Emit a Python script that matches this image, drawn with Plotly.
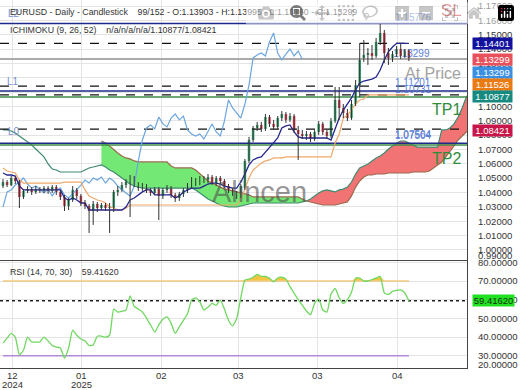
import numpy as np
import plotly.graph_objects as go

# ---------------- data ----------------
tick_pos = [2.4, 19.2, 38.6, 57.4, 76.8, 96.1]
tick_month = ["12", "01", "02", "03", "03", "04"]
tick_year = ["2024", "2025", "", "", "", ""]

price_ticks = [1.00, 1.01, 1.02, 1.03, 1.04, 1.05, 1.06, 1.07, 1.08, 1.09,
               1.10, 1.11, 1.12, 1.13, 1.14, 1.15, 1.16, 1.17]
rsi_ticks = [30, 40, 50, 60, 70, 80]

opens = [1.0445, 1.0473, 1.0452, 1.0501, 1.0480, 1.0369, 1.0411, 1.0424, 1.0404, 1.0424,
         1.0411, 1.0431, 1.0411, 1.0438, 1.0404, 1.0369, 1.0306, 1.0348, 1.0418, 1.0376,
         1.0327, 1.0306, 1.0271, 1.0320, 1.0292, 1.0313, 1.0292, 1.0292, 1.0404, 1.0418,
         1.0452, 1.0459, 1.0501, 1.0459, 1.0431, 1.0445, 1.0418, 1.0397, 1.0424, 1.0376,
         1.0418, 1.0431, 1.0383, 1.0362, 1.0390, 1.0418, 1.0452, 1.0487, 1.0466, 1.0501,
         1.0487, 1.0508, 1.0466, 1.0501, 1.0480, 1.0445, 1.0418, 1.0397, 1.0376, 1.0431,
         1.0620, 1.0766, 1.0850, 1.0871, 1.0843, 1.0926, 1.0878, 1.0857, 1.0919, 1.0947,
         1.0906, 1.0933, 1.0836, 1.0808, 1.0794, 1.0808, 1.0773, 1.0822, 1.0878, 1.0822,
         1.0794, 1.0898, 1.1045, 1.0989, 1.0954, 1.0919, 1.1017, 1.1149, 1.1338, 1.1359,
         1.1372, 1.1352, 1.1449, 1.1512, 1.1372, 1.1324, 1.1365, 1.1400, 1.1352, 1.13903]
highs = [1.0494, 1.0487, 1.0515, 1.0515, 1.0487, 1.0424, 1.0445, 1.0438, 1.0445, 1.0438,
         1.0445, 1.0445, 1.0452, 1.0452, 1.0418, 1.0383, 1.0362, 1.0445, 1.0431, 1.0390,
         1.0348, 1.0320, 1.0341, 1.0334, 1.0327, 1.0327, 1.0327, 1.0418, 1.0445, 1.0473,
         1.0494, 1.0522, 1.0515, 1.0473, 1.0466, 1.0459, 1.0431, 1.0438, 1.0438, 1.0431,
         1.0452, 1.0445, 1.0397, 1.0404, 1.0431, 1.0466, 1.0508, 1.0501, 1.0515, 1.0515,
         1.0529, 1.0522, 1.0515, 1.0515, 1.0494, 1.0459, 1.0431, 1.0411, 1.0459, 1.0634,
         1.0787, 1.0864, 1.0892, 1.0892, 1.0947, 1.0940, 1.0906, 1.0933, 1.0968, 1.0961,
         1.0954, 1.0947, 1.0864, 1.0836, 1.0829, 1.0822, 1.0836, 1.0898, 1.0892, 1.0836,
         1.0919, 1.1136, 1.1136, 1.1017, 1.0982, 1.1045, 1.1184, 1.1442, 1.1463, 1.1407,
         1.1428, 1.1477, 1.15776, 1.1533, 1.1407, 1.1386, 1.1421, 1.1435, 1.1400, 1.13995]
lows = [1.0431, 1.0438, 1.0445, 1.0459, 1.0292, 1.0355, 1.0397, 1.0383, 1.0390, 1.0397,
        1.0397, 1.0390, 1.0397, 1.0383, 1.0348, 1.0271, 1.0278, 1.0334, 1.0355, 1.0306,
        1.0285, 1.0118, 1.0174, 1.0264, 1.0278, 1.0271, 1.0118, 1.0264, 1.0376, 1.0404,
        1.0431, 1.0229, 1.0438, 1.0411, 1.0411, 1.0397, 1.0376, 1.0383, 1.0208, 1.0355,
        1.0397, 1.0362, 1.0334, 1.0341, 1.0369, 1.0397, 1.0431, 1.0445, 1.0452, 1.0466,
        1.0466, 1.0452, 1.0445, 1.0459, 1.0431, 1.0397, 1.0376, 1.0355, 1.0362, 1.0418,
        1.0606, 1.0752, 1.0829, 1.0822, 1.0829, 1.0857, 1.0836, 1.0843, 1.0898, 1.0885,
        1.0892, 1.0815, 1.0627, 1.0773, 1.0766, 1.0752, 1.0759, 1.0801, 1.0801, 1.0773,
        1.0780, 1.0885, 1.0906, 1.0919, 1.0898, 1.0906, 1.1003, 1.1066, 1.1310, 1.1289,
        1.1324, 1.1338, 1.1428, 1.1303, 1.1289, 1.1310, 1.1345, 1.1331, 1.1338, 1.13160]
closes = [1.0473, 1.0452, 1.0501, 1.0480, 1.0369, 1.0411, 1.0424, 1.0404, 1.0424, 1.0411,
          1.0431, 1.0411, 1.0438, 1.0404, 1.0369, 1.0306, 1.0348, 1.0418, 1.0376, 1.0327,
          1.0306, 1.0271, 1.0320, 1.0292, 1.0313, 1.0292, 1.0299, 1.0404, 1.0418, 1.0452,
          1.0473, 1.0501, 1.0459, 1.0431, 1.0445, 1.0418, 1.0397, 1.0424, 1.0376, 1.0418,
          1.0431, 1.0383, 1.0362, 1.0390, 1.0418, 1.0452, 1.0487, 1.0466, 1.0501, 1.0487,
          1.0508, 1.0466, 1.0501, 1.0480, 1.0445, 1.0418, 1.0397, 1.0376, 1.0445, 1.0620,
          1.0766, 1.0850, 1.0871, 1.0843, 1.0926, 1.0878, 1.0857, 1.0919, 1.0947, 1.0906,
          1.0933, 1.0836, 1.0808, 1.0794, 1.0808, 1.0773, 1.0822, 1.0878, 1.0822, 1.0794,
          1.0898, 1.1045, 1.0989, 1.0954, 1.0919, 1.1017, 1.1149, 1.1338, 1.1359, 1.1372,
          1.1352, 1.1449, 1.1512, 1.1372, 1.1324, 1.1365, 1.1400, 1.1352, 1.1386, 1.13299]

tenkan = [1.0536, 1.0522, 1.0522, 1.0515, 1.0445, 1.0418, 1.0418, 1.0418, 1.0418, 1.0418,
          1.0418, 1.0418, 1.0418, 1.0418, 1.0418, 1.0362, 1.0348, 1.0362, 1.0348, 1.0327,
          1.0327, 1.0278, 1.0278, 1.0278, 1.0278, 1.0278, 1.0278, 1.0278, 1.0278, 1.0278,
          1.0299, 1.0348, 1.0362, 1.0383, 1.0404, 1.0418, 1.0418, 1.0383, 1.0383, 1.0383,
          1.0383, 1.0383, 1.0362, 1.0376, 1.0404, 1.0418, 1.0431, 1.0431, 1.0431, 1.0445,
          1.0459, 1.0466, 1.0466, 1.0459, 1.0445, 1.0438, 1.0431, 1.0431, 1.0473, 1.0529,
          1.0592, 1.0627, 1.0641, 1.0648, 1.0683, 1.0710, 1.0745, 1.0780, 1.0850, 1.0864,
          1.0871, 1.0822, 1.0787, 1.0780, 1.0780, 1.0780, 1.0780, 1.0780, 1.0780, 1.0780,
          1.0766, 1.0850, 1.0919, 1.0975, 1.1017, 1.1059, 1.1115, 1.1163, 1.1177, 1.1184,
          1.1191, 1.1205, 1.1254, 1.1324, 1.1380, 1.1414, 1.1440, 1.1440, 1.1440, 1.14401]
kijun = [1.0571, 1.0550, 1.0543, 1.0536, 1.0487, 1.0466, 1.0466, 1.0466, 1.0466, 1.0466,
         1.0466, 1.0466, 1.0466, 1.0466, 1.0466, 1.0473, 1.0473, 1.0473, 1.0473, 1.0473,
         1.0418, 1.0376, 1.0362, 1.0348, 1.0341, 1.0327, 1.0299, 1.0292, 1.0278, 1.0278,
         1.0292, 1.0313, 1.0313, 1.0313, 1.0313, 1.0313, 1.0313, 1.0313, 1.0313, 1.0313,
         1.0313, 1.0313, 1.0313, 1.0313, 1.0313, 1.0313, 1.0313, 1.0313, 1.0313, 1.0313,
         1.0313, 1.0313, 1.0313, 1.0313, 1.0313, 1.0313, 1.0313, 1.0313, 1.0348, 1.0418,
         1.0501, 1.0557, 1.0585, 1.0606, 1.0620, 1.0627, 1.0641, 1.0641, 1.0641, 1.0648,
         1.0648, 1.0648, 1.0648, 1.0648, 1.0648, 1.0648, 1.0648, 1.0648, 1.0648, 1.0648,
         1.0648, 1.0745, 1.0808, 1.0919, 1.0940, 1.0975, 1.1017, 1.1045, 1.1052, 1.1080,
         1.1080, 1.1080, 1.1080, 1.1080, 1.1080, 1.1080, 1.1080, 1.1080, 1.1080, 1.1080]
senkou_a = [None] * 24 + [
    1.0759, 1.0745, 1.0724, 1.0696, 1.0675, 1.0655,
    1.0641, 1.0634, 1.0620, 1.0613, 1.0613, 1.0613, 1.0613, 1.0613, 1.0613, 1.0613,
    1.0613, 1.0585, 1.0571, 1.0571, 1.0571, 1.0571, 1.0571, 1.0557, 1.0529, 1.0501,
    1.0480, 1.0466, 1.0452, 1.0438, 1.0424, 1.0418, 1.0411, 1.0404, 1.0397, 1.0390,
    1.0383, 1.0369, 1.0369, 1.0369, 1.0369, 1.0369, 1.0369, 1.0369, 1.0369, 1.0369,
    1.0369, 1.0369, 1.0369, 1.0355, 1.0341, 1.0334, 1.0327, 1.0320, 1.0313, 1.0313,
    1.0313, 1.0313, 1.0320, 1.0327, 1.0334, 1.0376, 1.0438, 1.0480, 1.0508, 1.0522,
    1.0522, 1.0529, 1.0529, 1.0529, 1.0536, 1.0536, 1.0536, 1.0536, 1.0536, 1.0536,
    1.0543, 1.0543, 1.0543, 1.0543, 1.0550, 1.0571, 1.0592, 1.0613, 1.0648, 1.0683,
    1.0724, 1.0766, 1.0794, 1.0822, 1.0836]
senkou_b = [1.0836, 1.0836, 1.0829, 1.0815, 1.0794, 1.0773, 1.0752, 1.0731, 1.0703, 1.0675,
            1.0648, 1.0599, 1.0564, 1.0557, 1.0543, 1.0543, 1.0543, 1.0543, 1.0543, 1.0543,
            1.0557, 1.0571, 1.0578, 1.0585, 1.0592, 1.0578, 1.0557, 1.0543, 1.0522, 1.0501,
            1.0480, 1.0459, 1.0445, 1.0438, 1.0431, 1.0431, 1.0431, 1.0431, 1.0431, 1.0431,
            1.0431, 1.0431, 1.0431, 1.0431, 1.0431, 1.0431, 1.0431, 1.0418, 1.0397, 1.0376,
            1.0355, 1.0341, 1.0327, 1.0313, 1.0306, 1.0299, 1.0299, 1.0299, 1.0306, 1.0313,
            1.0320, 1.0327, 1.0327, 1.0327, 1.0327, 1.0327, 1.0327, 1.0327, 1.0327, 1.0327,
            1.0327, 1.0327, 1.0327, 1.0334, 1.0341, 1.0355, 1.0376, 1.0397, 1.0411, 1.0418,
            1.0411, 1.0404, 1.0418, 1.0424, 1.0438, 1.0473, 1.0529, 1.0571, 1.0585, 1.0599,
            1.0620, 1.0641, 1.0655, 1.0675, 1.0703, 1.0724, 1.0745, 1.0759, 1.0759, 1.0745,
            1.0731, 1.0717, 1.0717, 1.0717, 1.0717, 1.0717, 1.0717, 1.0836, 1.0836, 1.0850,
            1.0878, 1.0926, 1.0989, 1.1066, 1.1101]
chikou_shift = 26

rsi = [36.8, 39.5, 42.0, 40.0, 30.5, 33.0, 40.0, 37.4, 37.4, 37.4,
       40.0, 38.0, 35.5, 34.7, 34.2, 28.8, 34.2, 43.8, 41.0, 39.0,
       38.0, 35.5, 35.8, 40.5, 40.5, 40.0, 41.0, 55.0, 53.4, 53.8,
       54.5, 62.0, 56.5, 55.0, 53.4, 50.2, 46.5, 42.7, 46.5, 49.5,
       50.8, 47.5, 42.0, 45.5, 49.0, 52.5, 59.8, 61.0, 58.8, 54.5,
       56.0, 58.0, 57.0, 59.8, 55.0, 49.0, 46.0, 50.0, 61.0, 70.5,
       71.0, 72.0, 73.5, 72.5, 72.5, 71.5, 69.5, 71.6, 72.0, 71.0,
       67.0, 63.5, 60.0, 57.0, 54.0, 52.0, 58.0, 60.5, 54.5, 53.4,
       63.0, 66.0, 61.0, 58.0, 60.0, 64.0, 71.5, 71.5, 70.0, 70.0,
       70.8, 71.5, 72.5, 63.6, 62.8, 64.5, 65.0, 65.2, 63.6, 59.4162]
rsi_upper, rsi_lower = 70, 30

lvl_navy = [1.15776, 1.1108, 1.0743]
lvl_dashed = [1.14401, 1.1142, 1.1080, 1.08421]
lvl_green = [1.1066, 1.0731]
lvl_grey = [1.13299]
lvl_text_vals = [1.15776, 1.11201, 1.10731, 1.07564, 1.07504]
close_text_val = 1.13299

box_vals = [1.14401, 1.13299, 1.13299, 1.11526, 1.10877, 1.08421]
box_colors = ["#12129e", "#e8505c", "#3b8fe2", "#ea7a12", "#178a80", "#c8164a"]
box_shift = [0, 0, -13, 0, -3, -1]

# ---------------- figure ----------------
FONT = "Liberation Sans, Arial, sans-serif"
XR = [-0.73, 113.17]
n = len(closes)
idx = list(range(n))
cidx = list(range(len(senkou_b)))

fig = go.Figure()

# cloud fills
valid = [i for i in cidx if senkou_a[i] is not None]
runs = []
cur = [valid[0]]
sgn = senkou_a[valid[0]] >= senkou_b[valid[0]]
for i in valid[1:]:
    s = senkou_a[i] >= senkou_b[i]
    if s != sgn:
        runs.append((sgn, cur + [i]))
        cur = [i - 1, i]
        sgn = s
    else:
        cur.append(i)
runs.append((sgn, cur))
for up, r in runs:
    xs = r + r[::-1]
    ys = [senkou_a[j] for j in r] + [senkou_b[j] for j in r[::-1]]
    fig.add_trace(go.Scatter(x=xs, y=ys, fill="toself", mode="lines", line=dict(width=0),
                             fillcolor="#74e874" if up else "#f27373", hoverinfo="skip",
                             xaxis="x", yaxis="y"))

fig.add_trace(go.Scatter(x=cidx, y=senkou_b, mode="lines", line=dict(color="#3f8a72", width=1.2),
                         xaxis="x", yaxis="y"))
fig.add_trace(go.Scatter(x=cidx, y=senkou_a, mode="lines", line=dict(color="#9a6a4c", width=1.2),
                         xaxis="x", yaxis="y"))

# level lines
for v in lvl_grey:
    fig.add_trace(go.Scatter(x=XR, y=[v, v], mode="lines", line=dict(color="#aaaaaa", width=2)))
for v in lvl_green:
    fig.add_trace(go.Scatter(x=XR, y=[v, v], mode="lines", line=dict(color="#3c8c46", width=1.5)))
for v in lvl_navy:
    fig.add_trace(go.Scatter(x=XR, y=[v, v], mode="lines", line=dict(color="#1e2a8a", width=1.5)))
for v in lvl_dashed:
    fig.add_trace(go.Scatter(x=XR, y=[v, v], mode="lines", line=dict(color="#111111", width=1.2, dash="dash")))

# close value text (sits beneath the candles)
fig.add_trace(go.Scatter(x=[95.2], y=[close_text_val], mode="text",
                         text=[f"{close_text_val:.5f}"], textposition="top right",
                         textfont=dict(color="#5c7fd8", size=10, family=FONT)))

# chikou, kijun, tenkan
fig.add_trace(go.Scatter(x=idx[:n - chikou_shift], y=closes[chikou_shift:], mode="lines",
                         line=dict(color="#6ba6de", width=1.2)))
fig.add_trace(go.Scatter(x=idx, y=kijun, mode="lines", line=dict(color="#f0a86a", width=1.2)))
fig.add_trace(go.Scatter(x=idx, y=tenkan, mode="lines", line=dict(color="#26268f", width=1.3)))

# candles: wicks then bodies
wx, wy = [], []
for i in idx:
    wx += [i, i, None]
    wy += [lows[i], highs[i], None]
fig.add_trace(go.Scatter(x=wx, y=wy, mode="lines", line=dict(color="#333333", width=1)))
for up, col in ((True, "#35a66f"), (False, "#dd4455")):
    sel = [i for i in idx if (closes[i] >= opens[i]) == up]
    base = [min(opens[i], closes[i]) for i in sel]
    hgt = [max(abs(closes[i] - opens[i]), 0.0003) for i in sel]
    fig.add_trace(go.Bar(x=sel, y=hgt, base=base, width=0.62, marker=dict(color=col, line=dict(width=0)),
                         xaxis="x", yaxis="y"))

# RSI panel
fig.add_trace(go.Scatter(x=idx, y=[rsi_upper] * n, mode="lines", line=dict(width=0),
                         xaxis="x2", yaxis="y2"))
fig.add_trace(go.Scatter(x=idx, y=list(np.maximum(np.array(rsi), rsi_upper)), mode="lines",
                         fill="tonexty", fillcolor="#f5c542", line=dict(width=0),
                         xaxis="x2", yaxis="y2"))
fig.add_trace(go.Scatter(x=idx, y=[rsi_upper] * n, mode="lines", line=dict(color="#f2c97e", width=1.5),
                         xaxis="x2", yaxis="y2"))
fig.add_trace(go.Scatter(x=idx, y=[rsi_lower] * n, mode="lines", line=dict(color="#b48ad8", width=1.5),
                         xaxis="x2", yaxis="y2"))
fig.add_trace(go.Scatter(x=XR, y=[rsi[-1], rsi[-1]], mode="lines",
                         line=dict(color="#222222", width=1.5, dash="dot"), xaxis="x2", yaxis="y2"))
fig.add_trace(go.Scatter(x=idx, y=rsi, mode="lines", line=dict(color="#70d860", width=1.3,
                                                              shape="spline", smoothing=0.5),
                         xaxis="x2", yaxis="y2"))

# ---------------- layout ----------------
PH = 368.0
def py(p):
    return (PH - p) / PH

ann = []
def text(x, y, t, size=10.5, color="#333333", xanchor="left", **kw):
    ann.append(dict(x=x / 467.0, y=py(y), xref="paper", yref="paper", text=t, showarrow=False,
                    xanchor=xanchor, yanchor="middle", font=dict(family=FONT, size=size, color=color), **kw))

sp = "\u00a0" * 4
text(6, 14, "L2", 10, "#7a90d0")
text(5, 81, "L1", 10, "#7a90d0")
text(6, 131, "L0", 10, "#7a90d0")
text(8, 12.5, "EURUSD - Daily - Candlestick" + sp + "99/152 - O:1.13903 - H:1.13995 - L:1.13160 - C:1.13299", 8.8)
text(8, 29.5, "ICHIMOKU (9, 26, 52)" + sp + "n/a/n/a/n/a/1.10877/1.08421", 8.8)
text(8, 272, "RSI (14, 70, 30)" + sp + "59.41620", 8.8)
text(451, 11, "SL", 17, "#d13b3b", "center")
text(433, 73, "At Price", 16, "#a3a3a3", "center")
text(446, 109, "TP1", 16, "#2f8c3a", "center")
text(446, 158, "TP2", 16, "#2f8c3a", "center")
text(259, 192, "Alincen", 29, "rgba(80,80,80,0.6)", "center")
text(476, 255.5, "0.99000", 9.5, "#333333")
text(476, 364, "20.00000", 9.5, "#333333")

for v in lvl_text_vals:
    ann.append(dict(x=95.2, xref="x", y=v, yref="y", yanchor="bottom", xanchor="left", yshift=-1,
                    text=f"{v:.5f}", showarrow=False, font=dict(family=FONT, size=10, color="#5c7fd8")))

for v, c, s in zip(box_vals, box_colors, box_shift):
    ann.append(dict(x=1, xref="paper", xanchor="left", xshift=5, y=v, yref="y", yshift=s,
                    text=f"{v:.5f}", showarrow=False, bgcolor=c, width=39, height=11, borderpad=0,
                    font=dict(family=FONT, size=9.5, color="white")))
ann.append(dict(x=1, xref="paper", xanchor="left", xshift=5, y=rsi[-1], yref="y2",
                text=f"{rsi[-1]:.5f}", showarrow=False, bgcolor="#22e022", width=41, height=11, borderpad=0,
                font=dict(family=FONT, size=9.5, color="#123312")))

for tp, m, yr in zip(tick_pos, tick_month, tick_year):
    ann.append(dict(x=tp, xref="x2", y=py(375), yref="paper", text=m, showarrow=False,
                    font=dict(family=FONT, size=9.5, color="#333333"), xanchor="center", yanchor="middle"))
    if yr:
        ann.append(dict(x=tp, xref="x2", y=py(384), yref="paper", text=yr, showarrow=False,
                        font=dict(family=FONT, size=9.5, color="#333333"), xanchor="center", yanchor="middle"))

grid = "#e4e4e4"
fig.update_layout(
    width=520, height=390, margin=dict(l=0, r=53, t=0, b=22),
    paper_bgcolor="white", plot_bgcolor="white", showlegend=False, barmode="overlay",
    font=dict(family=FONT, size=10, color="#333333"),
    xaxis=dict(domain=[0, 1], range=XR, tickvals=tick_pos, showticklabels=False, showgrid=True,
               gridcolor=grid, zeroline=False, showline=True, linecolor="#444444", anchor="y", ticks=""),
    yaxis=dict(domain=[0.2935, 1], range=[0.99296, 1.17418], side="right", tickvals=price_ticks,
               tickformat=".5f", showgrid=True, gridcolor=grid, zeroline=False, showline=True,
               linecolor="#444444", ticks="", ticklabelstandoff=8, anchor="x", automargin=False,
               tickfont=dict(size=9.5, color="#333333")),
    xaxis2=dict(domain=[0, 1], range=XR, tickvals=tick_pos, showticklabels=False, showgrid=True,
                gridcolor=grid, zeroline=False, showline=True, linecolor="#444444", anchor="y2",
                matches="x", ticks=""),
    yaxis2=dict(domain=[0, 0.2908], range=[23.5, 80.7], side="right", tickvals=rsi_ticks,
                tickformat=".5f", showgrid=True, gridcolor=grid, zeroline=False, showline=True,
                linecolor="#444444", ticks="", ticklabelstandoff=8, anchor="x2", automargin=False,
                tickfont=dict(size=9.5, color="#333333")),
    annotations=ann,
)

fig.write_html("out.html")
with open("out.html", "r", encoding="utf-8") as f:
    html = f.read()
html = html.replace("<head>", "<head><style>html,body{margin:0;padding:0;overflow:hidden;}</style>", 1)
with open("out.html", "w", encoding="utf-8") as f:
    f.write(html)
